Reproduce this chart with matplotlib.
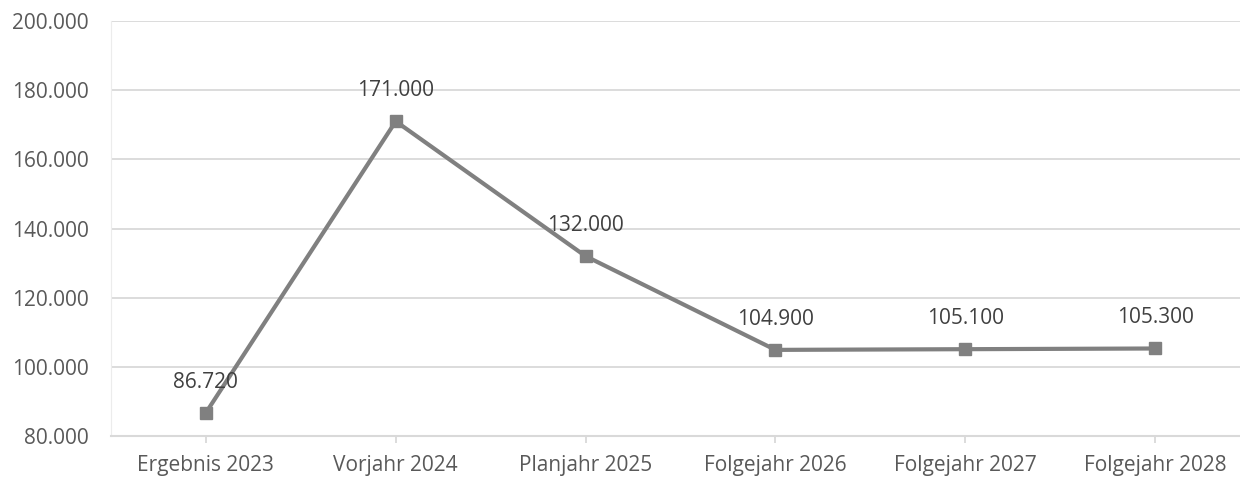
import matplotlib.pyplot as plt
from matplotlib.ticker import FuncFormatter

categories = ["Ergebnis 2023", "Vorjahr 2024", "Planjahr 2025",
              "Folgejahr 2026", "Folgejahr 2027", "Folgejahr 2028"]
values = [86720, 171000, 132000, 104900, 105100, 105300]
y_ticks = [80000, 100000, 120000, 140000, 160000, 180000, 200000]


def de_fmt(v, pos=None):
    return f"{v:,.0f}".replace(",", ".")


plt.rcParams['font.family'] = ['Open Sans', 'DejaVu Sans']
text_col = '#595959'
grid_col = '#d9d9d9'

fig = plt.figure(figsize=(12.4, 4.8), dpi=100)
ax = fig.add_axes([0.0895, 0.0917, 0.9105, 0.8645])

x = list(range(len(categories)))
ax.plot(x, values, color='#808080', linewidth=3, marker='s', markersize=8,
        solid_capstyle='round', zorder=3)

for xi, v in zip(x, values):
    ax.annotate(de_fmt(v), (xi, v), xytext=(0, 22), textcoords='offset points',
                ha='center', va='center', fontsize=15, color='#404040')

ax.set_xlim(-0.5, 5.447)
ax.set_ylim(80000, 200000)
ax.set_yticks(y_ticks)
ax.yaxis.set_major_formatter(FuncFormatter(de_fmt))
ax.set_xticks(x)
ax.set_xticklabels(categories)

ax.grid(axis='y', color=grid_col, linewidth=1.3)
ax.set_axisbelow(True)
for s in ['top', 'right']:
    ax.spines[s].set_visible(False)
ax.spines['left'].set_color('#ececec')
ax.spines['bottom'].set_color(grid_col)
ax.spines['bottom'].set_linewidth(1.5)
ax.tick_params(axis='y', length=0, labelsize=15, colors=text_col, pad=16)
ax.tick_params(axis='x', length=5, color=grid_col, width=1.3, labelsize=15,
               labelcolor=text_col, pad=9)

fig.savefig('out.png', dpi=100)
